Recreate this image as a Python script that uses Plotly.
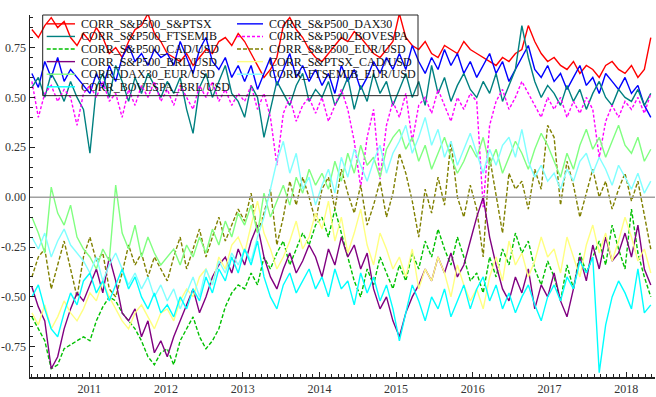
import pandas as pd
import plotly.graph_objects as go

# ---------------- data (monthly readings, Apr 2010 .. Apr 2018) ----------------
dates = pd.date_range("2010-04-03", "2018-04-28", periods=97)

sp_tsx = [
    0.84, 0.80, 0.86, 0.90, 0.85, 0.88, 0.80, 0.76, 0.82,
    0.78, 0.85, 0.80, 0.72, 0.75, 0.70, 0.78, 0.84, 0.86, 0.92, 0.82, 0.78,
    0.72, 0.70, 0.68, 0.72, 0.66, 0.70, 0.74, 0.72, 0.78, 0.80, 0.76, 0.82,
    0.78, 0.72, 0.66, 0.60, 0.64, 0.70, 0.86, 0.90, 0.84, 0.80, 0.74, 0.70,
    0.68, 0.72, 0.76, 0.80, 0.78, 0.83, 0.80, 0.76, 0.72, 0.70, 0.74, 0.78,
    0.92, 0.80, 0.76, 0.74, 0.78, 0.72, 0.70, 0.76, 0.74, 0.72, 0.78, 0.74,
    0.72, 0.70, 0.68, 0.66, 0.70, 0.68, 0.72, 0.74, 0.86, 0.78, 0.72, 0.68,
    0.70, 0.66, 0.64, 0.68, 0.62, 0.66, 0.64, 0.60, 0.66, 0.68, 0.64, 0.62,
    0.66, 0.60, 0.64, 0.80]

sp_dax = [
    0.62, 0.55, 0.68, 0.60, 0.70, 0.58, 0.64, 0.60, 0.56,
    0.52, 0.62, 0.55, 0.66, 0.58, 0.70, 0.76, 0.68, 0.72, 0.66, 0.74, 0.70,
    0.72, 0.66, 0.78, 0.70, 0.62, 0.74, 0.80, 0.68, 0.64, 0.70, 0.60, 0.66,
    0.58, 0.66, 0.54, 0.62, 0.70, 0.56, 0.64, 0.72, 0.60, 0.66, 0.58, 0.64,
    0.56, 0.62, 0.52, 0.66, 0.58, 0.64, 0.54, 0.60, 0.68, 0.62, 0.70, 0.64,
    0.72, 0.64, 0.76, 0.68, 0.62, 0.70, 0.64, 0.74, 0.66, 0.72, 0.62, 0.68,
    0.60, 0.66, 0.72, 0.62, 0.68, 0.58, 0.64, 0.70, 0.76, 0.64, 0.60, 0.66,
    0.58, 0.62, 0.54, 0.60, 0.66, 0.56, 0.60, 0.52, 0.62, 0.58, 0.54, 0.60,
    0.52, 0.56, 0.46, 0.40]

sp_ftse = [
    0.55, 0.60, 0.50, 0.62, 0.56, 0.48, 0.58, 0.50, 0.44,
    0.22, 0.55, 0.62, 0.50, 0.66, 0.58, 0.48, 0.60, 0.52, 0.62, 0.56, 0.50,
    0.58, 0.52, 0.60, 0.44, 0.32, 0.55, 0.62, 0.50, 0.58, 0.66, 0.52, 0.48,
    0.40, 0.56, 0.50, 0.30, 0.44, 0.58, 0.52, 0.46, 0.56, 0.62, 0.48, 0.54,
    0.50, 0.58, 0.46, 0.52, 0.60, 0.44, 0.56, 0.48, 0.62, 0.52, 0.58, 0.46,
    0.54, 0.62, 0.50, 0.58, 0.46, 0.66, 0.52, 0.60, 0.48, 0.56, 0.62, 0.54,
    0.50, 0.58, 0.52, 0.62, 0.48, 0.56, 0.64, 0.86, 0.70, 0.58, 0.50, 0.56,
    0.52, 0.46, 0.56, 0.48, 0.54, 0.44, 0.52, 0.58, 0.50, 0.46, 0.54, 0.50,
    0.48, 0.54, 0.46, 0.52]

sp_bov = [
    0.58, 0.40, 0.52, 0.56, 0.48, 0.54, 0.50, 0.36, 0.52,
    0.56, 0.50, 0.58, 0.48, 0.52, 0.40, 0.54, 0.46, 0.56, 0.50, 0.58, 0.48,
    0.54, 0.46, 0.56, 0.50, 0.44, 0.56, 0.50, 0.58, 0.48, 0.54, 0.46, 0.52,
    0.48, 0.56, 0.44, 0.52, 0.40, 0.16, 0.42, 0.50, 0.38, 0.46, 0.50, 0.42,
    0.50, 0.38, 0.46, 0.54, 0.44, 0.28, 0.05, 0.30, 0.44, 0.09, 0.36, 0.48,
    0.40, 0.52, 0.28, 0.46, 0.50, 0.42, 0.54, 0.46, 0.38, 0.50, 0.44, 0.52,
    0.48, -0.05, 0.36, 0.48, 0.54, 0.44, 0.50, 0.58, 0.52, 0.46, 0.40, 0.50,
    0.44, 0.50, 0.40, 0.48, 0.42, 0.50, 0.44, 0.20, 0.38, 0.46, 0.40, 0.48,
    0.44, 0.50, 0.42, 0.52]

sp_cad = [
    -0.60, -0.66, -0.72, -0.86, -0.84, -0.76, -0.74, -0.72, -0.70,
    -0.72, -0.62, -0.55, -0.50, -0.52, -0.58, -0.62, -0.66, -0.72, -0.80, -0.84, -0.78,
    -0.76, -0.84, -0.72, -0.66, -0.60, -0.70, -0.76, -0.72, -0.66, -0.55, -0.48, -0.44,
    -0.46, -0.38, -0.44, -0.30, -0.36, -0.28, -0.22, -0.34, -0.26, -0.18, -0.24, -0.14,
    -0.10, -0.20, -0.06, -0.18, -0.30, -0.42, -0.50, -0.36, -0.44, -0.30, -0.38, -0.46,
    -0.34, -0.42, -0.28, -0.36, -0.22, -0.30, -0.16, -0.26, -0.34, -0.20, -0.30, -0.42,
    -0.38, -0.48, -0.30, -0.40, -0.26, -0.34, -0.18, -0.28, -0.22, -0.36, -0.44, -0.32,
    -0.40, -0.52, -0.34, -0.46, -0.28, -0.38, -0.30, -0.22, -0.34, -0.14, -0.26, -0.36,
    -0.06, -0.28, -0.40, -0.50]

sp_eur = [
    -0.40, -0.30, -0.26, -0.46, -0.34, -0.22, -0.36, -0.50, -0.30,
    -0.20, -0.32, -0.28, -0.46, -0.50, -0.38, -0.24, -0.34, -0.28, -0.40, -0.30, -0.36,
    -0.42, -0.30, -0.20, -0.36, -0.26, -0.16, -0.30, -0.20, -0.10, -0.22, -0.14, -0.06,
    -0.12, 0.02, -0.18, -0.08, 0.04, -0.24, -0.10, 0.08, -0.04, 0.10, 0.00, -0.12,
    0.04, 0.10, -0.06, 0.14, 0.02, -0.08, 0.06, -0.14, -0.04, 0.08, -0.10, 0.02,
    0.22, 0.12, -0.02, -0.20, 0.04, -0.08, 0.10, -0.04, 0.28, 0.00, -0.10, 0.06,
    -0.06, -0.30, 0.20, 0.02, -0.18, 0.12, 0.04, 0.08, -0.06, 0.14, 0.04, 0.36,
    0.30, -0.04, 0.18, 0.06, -0.10, 0.02, 0.14, 0.00, 0.08, -0.06, 0.04, 0.12,
    -0.02, 0.08, -0.10, -0.26]

sp_brl = [
    -0.45, -0.55, -0.62, -0.86, -0.80, -0.66, -0.56, -0.48, -0.52,
    -0.44, -0.36, -0.48, -0.30, -0.42, -0.58, -0.62, -0.56, -0.70, -0.62, -0.78, -0.72,
    -0.80, -0.70, -0.62, -0.54, -0.46, -0.58, -0.50, -0.40, -0.34, -0.30, -0.38, -0.26,
    -0.34, -0.22, -0.14, -0.30, -0.40, -0.46, -0.36, -0.28, -0.38, -0.32, -0.24, -0.30,
    -0.40, -0.26, -0.34, -0.20, -0.30, -0.24, -0.36, -0.28, -0.46, -0.56, -0.50, -0.62,
    -0.70, -0.58, -0.50, -0.44, -0.36, -0.42, -0.30, -0.38, -0.28, -0.40, -0.34, -0.22,
    -0.10, 0.00, -0.20, -0.34, -0.46, -0.52, -0.40, -0.48, -0.36, -0.56, -0.44, -0.50,
    -0.38, -0.52, -0.60, -0.46, -0.30, -0.42, -0.24, -0.36, -0.20, -0.32, -0.28, -0.18,
    -0.30, -0.14, -0.36, -0.44]

tsx_cad = [
    -0.58, -0.64, -0.54, -0.66, -0.60, -0.52, -0.58, -0.62, -0.56,
    -0.48, -0.52, -0.42, -0.50, -0.56, -0.62, -0.66, -0.58, -0.54, -0.60, -0.66, -0.58,
    -0.56, -0.62, -0.52, -0.46, -0.50, -0.40, -0.36, -0.44, -0.30, -0.36, -0.24, -0.20,
    -0.28, -0.14, -0.02, -0.18, -0.26, -0.36, -0.30, -0.22, -0.12, -0.26, -0.20, -0.08,
    -0.16, -0.02, -0.22, -0.10, -0.28, -0.18, -0.06, -0.24, -0.34, -0.18, -0.26, -0.36,
    -0.30, -0.40, -0.26, -0.46, -0.36, -0.42, -0.30, -0.38, -0.50, -0.34, -0.44, -0.52,
    -0.46, -0.56, -0.40, -0.30, -0.42, -0.22, -0.34, -0.28, -0.40, -0.32, -0.20, -0.30,
    -0.26, -0.38, -0.20, -0.30, -0.40, -0.24, -0.14, -0.28, -0.18, -0.32, -0.22, -0.10,
    -0.20, -0.32, -0.26, -0.38]

dax_eur = [
    -0.10, -0.18, -0.28, 0.05, -0.08, -0.14, -0.04, -0.20, -0.26,
    -0.30, -0.36, -0.26, -0.32, 0.06, -0.18, -0.26, -0.14, -0.30, -0.20, -0.28, -0.34,
    -0.30, -0.26, -0.34, -0.24, -0.30, -0.20, -0.28, -0.16, -0.24, -0.12, -0.20, -0.08,
    -0.14, -0.04, -0.18, 0.02, -0.10, -0.02, 0.06, -0.04, 0.10, 0.02, 0.14, 0.06,
    0.12, 0.04, 0.18, 0.08, 0.22, 0.12, 0.26, 0.16, 0.20, 0.10, 0.24, 0.30,
    0.34, 0.24, 0.30, 0.18, 0.26, 0.14, 0.22, 0.30, 0.20, 0.12, 0.18, 0.26,
    0.20, 0.30, 0.16, 0.24, 0.12, 0.20, 0.28, 0.22, 0.14, 0.24, 0.32, 0.26,
    0.18, 0.10, 0.22, 0.14, 0.26, 0.34, 0.24, 0.30, 0.20, 0.28, 0.36, 0.26,
    0.22, 0.30, 0.18, 0.24]

ftse_eur = [
    -0.20, -0.26, -0.18, -0.30, -0.22, -0.16, -0.24, -0.28, -0.32,
    -0.38, -0.30, -0.42, -0.34, -0.28, -0.36, -0.44, -0.38, -0.46, -0.40, -0.50, -0.44,
    -0.52, -0.46, -0.56, -0.48, -0.40, -0.50, -0.36, -0.44, -0.32, -0.38, -0.28, -0.34,
    -0.26, -0.32, -0.20, -0.10, 0.04, 0.18, 0.28, 0.12, 0.22, 0.04, 0.10, -0.04,
    0.06, 0.14, 0.02, 0.20, 0.10, 0.24, 0.16, 0.08, 0.18, 0.26, 0.12, 0.22,
    0.28, 0.36, 0.22, 0.30, 0.40, 0.26, 0.34, 0.20, 0.28, 0.16, 0.24, 0.32,
    0.22, 0.12, 0.24, 0.16, 0.26, 0.30, 0.20, 0.34, 0.18, 0.10, 0.16, 0.08,
    0.12, 0.04, 0.14, 0.08, 0.18, 0.22, 0.12, 0.20, 0.14, 0.06, 0.16, 0.10,
    0.04, 0.12, 0.02, 0.08]

bov_brl = [
    -0.50, -0.44, -0.56, -0.66, -0.70, -0.58, -0.48, -0.54, -0.42,
    -0.38, -0.48, -0.42, -0.52, -0.44, -0.36, -0.46, -0.40, -0.50, -0.56, -0.48, -0.58,
    -0.54, -0.60, -0.50, -0.56, -0.46, -0.52, -0.40, -0.48, -0.36, -0.42, -0.30, -0.38,
    -0.26, -0.34, -0.22, -0.40, -0.50, -0.56, -0.44, -0.38, -0.48, -0.42, -0.36, -0.46,
    -0.40, -0.50, -0.36, -0.46, -0.42, -0.54, -0.38, -0.48, -0.40, -0.52, -0.44, -0.56,
    -0.72, -0.58, -0.44, -0.52, -0.62, -0.50, -0.56, -0.46, -0.60, -0.52, -0.44, -0.56,
    -0.46, -0.40, -0.52, -0.44, -0.56, -0.48, -0.58, -0.50, -0.44, -0.54, -0.62, -0.50,
    -0.44, -0.52, -0.40, -0.46, -0.32, -0.38, -0.30, -0.88, -0.64, -0.50, -0.42, -0.48,
    -0.56, -0.36, -0.58, -0.54]

series_names = [
    "CORR_S&P500_S&PTSX", "CORR_S&P500_DAX30", "CORR_S&P500_FTSEMIB",
    "CORR_S&P500_BOVESPA", "CORR_S&P500_CAD/USD", "CORR_S&P500_EUR/USD",
    "CORR_S&P500_BRL/USD", "CORR_S&PTSX_CAD/USD", "CORR_DAX30_EUR/USD",
    "CORR_FTSEMIB_EUR/USD", "CORR_BOVESPA_BRL/USD",
]
series_values = [sp_tsx, sp_dax, sp_ftse, sp_bov, sp_cad, sp_eur, sp_brl,
                 tsx_cad, dax_eur, ftse_eur, bov_brl]

year_ticks = ["2011-01-01", "2012-01-01", "2013-01-01", "2014-01-01",
              "2015-01-01", "2016-01-01", "2017-01-01", "2018-01-01"]
year_labels = ["2011", "2012", "2013", "2014", "2015", "2016", "2017", "2018"]
y_tickvals = [-0.75, -0.5, -0.25, 0.0, 0.25, 0.5, 0.75]
y_ticktext = ["-0.75", "-0.50", "-0.25", "0.00", "0.25", "0.50", "0.75"]

# ---------------- styles ----------------
colors = ["#FF0000", "#0000FF", "#008080", "#FF00FF", "#00C000", "#808000",
          "#800080", "#FFFF80", "#80FF80", "#80FFFF", "#00FFFF"]
dashes = ["solid", "solid", "solid", "3px,2px", "4px,2px", "4px,2px",
          "solid", "solid", "solid", "solid", "solid"]

FONT = "Liberation Serif, Times New Roman, serif"
W, H = 656, 397
ML, MR, MT, MB = 30, 1, 15, 14
PW, PH = W - ML - MR, H - MT - MB


def px(x):
    return (x - ML) / PW


def py(y):
    return (H - MB - y) / PH


fig = go.Figure()
for name, vals, col, dsh in zip(series_names, series_values, colors, dashes):
    fig.add_trace(go.Scatter(
        x=dates[:len(vals)], y=vals, mode="lines", name=name,
        line=dict(color=col, width=1.4, dash=dsh), showlegend=False,
        hoverinfo="skip"))

shapes = []
annotations = []
# zero line (drawn above data)
shapes.append(dict(type="line", xref="paper", yref="y", x0=0, x1=1, y0=0, y1=0,
                   line=dict(color="#A0A0A0", width=1.5), layer="above"))
# legend box
shapes.append(dict(type="rect", xref="paper", yref="paper",
                   x0=px(42.7), x1=px(418), y0=py(97), y1=py(15),
                   line=dict(color="#222222", width=1), fillcolor="rgba(0,0,0,0)",
                   layer="above"))
for i, (name, col, dsh) in enumerate(zip(series_names, colors, dashes)):
    col_i, row_i = i % 2, i // 2
    if col_i == 0:
        lx0, lx1, tx = 46.7, 75, 80
    else:
        lx0, lx1, tx = 237, 263, 268
    yy = 24 + 12.8 * row_i
    shapes.append(dict(type="line", xref="paper", yref="paper",
                       x0=px(lx0), x1=px(lx1), y0=py(yy), y1=py(yy),
                       line=dict(color=col, width=1.4, dash=dsh), layer="above"))
    annotations.append(dict(xref="paper", yref="paper", x=px(tx), y=py(yy),
                            xanchor="left", yanchor="middle", showarrow=False,
                            text=name, borderpad=0, height=12,
                            font=dict(family=FONT, size=12, color="#111111")))

fig.update_layout(
    width=W, height=H,
    margin=dict(l=ML, r=MR, t=MT, b=MB, pad=0),
    paper_bgcolor="white", plot_bgcolor="white",
    showlegend=False,
    shapes=shapes, annotations=annotations,
    font=dict(family=FONT, size=12, color="#333333"),
    xaxis=dict(
        type="date", range=["2010-03-25", "2018-05-18"],
        tickvals=year_ticks, ticktext=year_labels,
        ticks="inside", ticklen=5, tickwidth=1, tickcolor="#222222",
        showline=True, linecolor="#222222", linewidth=1.5,
        showgrid=False, zeroline=False,
        minor=dict(dtick="M1", tick0="2011-01-01", ticks="inside", ticklen=3,
                   tickcolor="#222222", showgrid=False),
        tickfont=dict(family=FONT, size=12, color="#333333"),
    ),
    yaxis=dict(
        range=[-0.9015, 0.913],
        tickvals=y_tickvals, ticktext=y_ticktext,
        ticks="inside", ticklen=5, tickwidth=1, tickcolor="#222222",
        showline=True, linecolor="#222222", linewidth=1.5,
        showgrid=False, zeroline=False,
        minor=dict(dtick=0.05, tick0=0, ticks="inside", ticklen=3,
                   tickcolor="#222222", showgrid=False),
        tickfont=dict(family=FONT, size=12, color="#333333"),
    ),
)

fig.write_html(
    "out.html",
    config={"displayModeBar": False, "staticPlot": True},
    post_script="document.body.style.margin='0';document.body.style.overflow='hidden';",
)
